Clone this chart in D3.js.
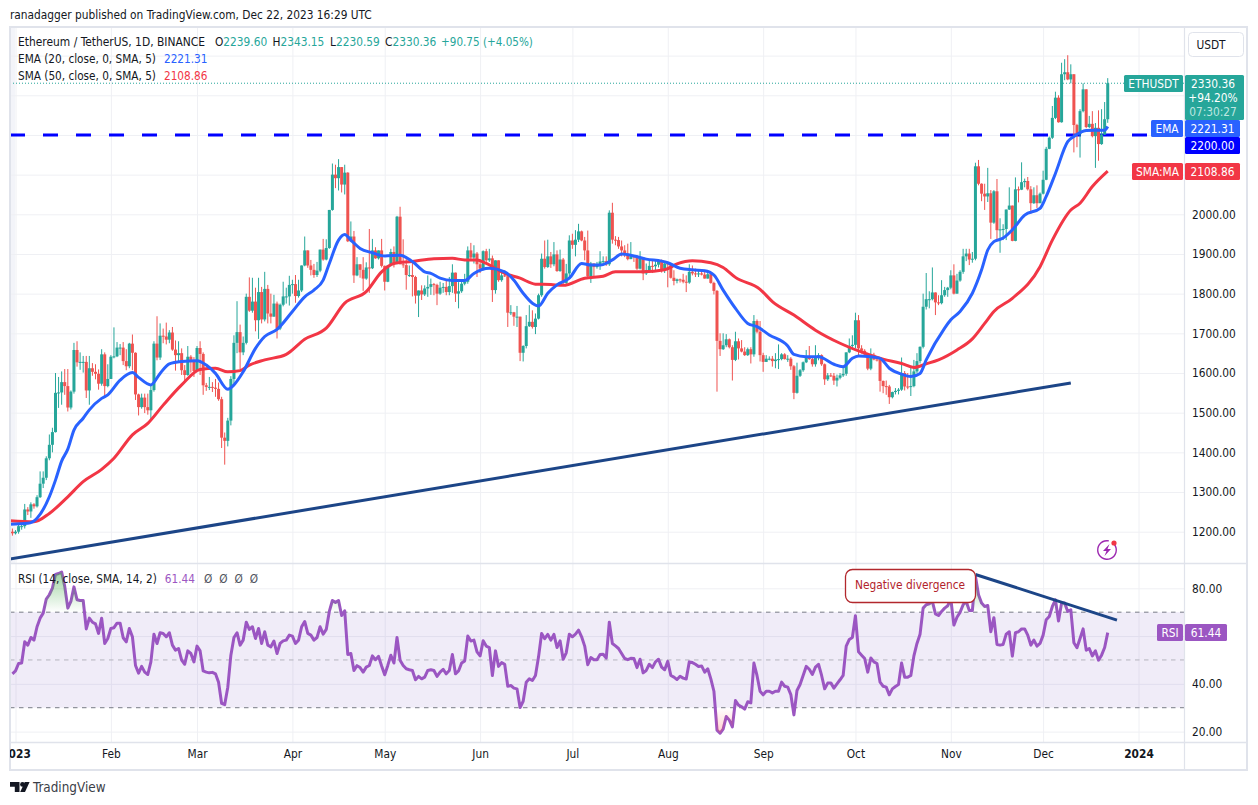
<!DOCTYPE html>
<html>
<head>
<meta charset="utf-8">
<title>ETHUSDT</title>
<script src="https://cdn.jsdelivr.net/npm/d3@7"></script>
<style>
  html, body { margin: 0; padding: 0; background: #fff; }
  text { font-family: "DejaVu Sans", sans-serif; font-stretch: condensed; font-size: 11.8px; fill: #131722; }
  .domain { display: none; }
</style>
</head>
<body>
<svg id="chart" width="1258" height="805"></svg>
<script>
// values, one row per month, first value is Dec 31 2022
const firstDay = -1
const firstOpen = 1200
const closes = [1196,
  1200,1214,1214,1256,1251,1269,1264,1287,1321,1336,1385,1419,1451,1550,1551,1577,1567,1513,1553,1658,1627,1628,1628,1556,1612,1603,1598,1573,1647,1567,1585,
  1641,1642,1664,1664,1630,1617,1674,1651,1546,1514,1538,1514,1506,1557,1674,1639,1694,1692,1684,1702,1659,1645,1650,1607,1595,1641,1633,1605,
  1663,1648,1569,1565,1565,1563,1560,1534,1437,1429,1480,1585,1676,1703,1652,1676,1792,1757,1780,1733,1804,1735,1812,1750,1742,1775,1712,1772,1793,1793,1822,
  1824,1794,1808,1871,1909,1871,1860,1847,1858,1911,1886,1915,2011,2100,2091,2119,2075,2105,1932,1944,1846,1874,1860,1838,1866,1864,1909,1889,1909,1870,
  1830,1871,1905,1876,1994,1874,1872,1847,1847,1842,1795,1808,1798,1813,1817,1824,1822,1800,1815,1817,1804,1819,1853,1800,1806,1825,1830,1909,1891,1901,1874,
  1863,1907,1884,1889,1809,1884,1834,1846,1844,1752,1753,1742,1742,1651,1668,1718,1729,1716,1737,1796,1888,1867,1894,1874,1899,1857,1886,1827,1851,1934,
  1923,1936,1957,1934,1909,1844,1876,1867,1871,1881,1882,1874,2004,1936,1935,1919,1909,1897,1887,1894,1892,1863,1891,1851,1859,1870,1869,1873,1884,1859,1876,
  1875,1840,1832,1836,1835,1830,1828,1855,1851,1849,1851,1848,1838,1849,1827,1807,1681,1660,1670,1685,1665,1633,1680,1662,1654,1645,1660,1647,1731,1704,1645,
  1628,1636,1636,1630,1634,1635,1647,1635,1636,1617,1550,1593,1607,1627,1642,1635,1622,1639,1645,1622,1584,1594,1593,1581,1588,1594,1598,1652,1668,1671,
  1733,1662,1656,1647,1611,1646,1634,1633,1580,1567,1566,1539,1552,1555,1558,1600,1566,1565,1567,1604,1630,1666,1767,1786,1786,1803,1778,1776,1796,1809,1815,
  1846,1800,1833,1855,1894,1901,1886,1888,2121,2077,2052,2045,2053,1979,2058,1960,1962,1963,2012,2022,1933,2063,2062,2081,2084,2063,2028,2048,2028,2052,
  2087,2165,2193,2243,2294,2232,2353,2358,2340,2353,2225,2202,2260,2315,2220,2228,2197,2218,2177,2201,2239.6,2330.36]
const highs = [1208,
  1204,1222,1218,1270,1262,1274,1272,1292,1352,1352,1390,1445,1462,1600,1590,1604,1610,1610,1556,1676,1680,1652,1643,1643,1643,1625,1622,1609,1660,1652,1622,
  1645,1715,1678,1673,1678,1660,1676,1697,1652,1548,1548,1548,1548,1569,1680,1743,1725,1712,1727,1708,1716,1682,1680,1662,1620,1668,1645,1640,
  1668,1680,1652,1575,1590,1577,1585,1576,1540,1450,1487,1592,1695,1781,1722,1692,1800,1841,1840,1815,1840,1817,1855,1822,1800,1797,1780,1775,1830,1815,1845,
  1835,1847,1835,1871,1944,1909,1885,1875,1880,1911,1938,1937,2011,2128,2125,2139,2118,2125,2106,1982,1958,1892,1874,1892,1879,1963,1938,1917,1909,1938,
  1871,1871,1913,1919,1996,2019,1937,1892,1871,1884,1845,1808,1821,1821,1846,1838,1827,1825,1830,1827,1834,1842,1874,1853,1829,1830,1850,1919,1928,1922,1905,
  1884,1909,1913,1913,1896,1884,1884,1859,1859,1846,1771,1754,1769,1740,1670,1746,1771,1758,1750,1800,1901,1934,1936,1905,1930,1909,1911,1890,1875,1947,
  1951,1960,1976,1959,1943,1959,1880,1876,1880,1907,1894,1894,2010,2029,1945,1943,1934,1922,1926,1930,1896,1897,1907,1891,1876,1884,1884,1886,1886,1886,1880,
  1879,1876,1859,1838,1838,1850,1846,1874,1871,1863,1859,1856,1860,1855,1855,1830,1809,1700,1700,1698,1687,1670,1704,1687,1683,1665,1664,1665,1746,1735,1731,
  1651,1645,1642,1643,1650,1672,1650,1650,1645,1640,1620,1626,1610,1629,1658,1668,1641,1670,1650,1647,1624,1600,1600,1600,1596,1600,1616,1652,1687,1695,
  1752,1746,1670,1660,1651,1662,1651,1642,1635,1581,1581,1570,1553,1562,1562,1639,1605,1600,1616,1633,1650,1667,1800,1852,1806,1866,1803,1796,1834,1817,1817,
  1859,1874,1850,1859,1913,1913,1913,1905,2130,2137,2078,2077,2117,2061,2061,2089,1990,1975,2012,2068,2022,2093,2070,2131,2090,2094,2071,2068,2073,2055,
  2110,2170,2196,2273,2309,2300,2382,2391,2401,2378,2353,2228,2265,2330,2315,2248,2260,2230,2262,2265,2283,2343.15]
const lows = [1190,
  1193,1195,1205,1208,1242,1235,1258,1261,1285,1310,1330,1380,1400,1450,1512,1520,1545,1503,1508,1548,1616,1608,1601,1537,1520,1593,1584,1558,1568,1537,1564,
  1585,1637,1640,1645,1620,1607,1612,1607,1532,1493,1510,1499,1495,1482,1553,1632,1633,1675,1672,1675,1656,1606,1628,1595,1578,1593,1601,1590,
  1605,1595,1545,1555,1557,1552,1540,1530,1411,1369,1415,1468,1574,1650,1610,1645,1672,1754,1752,1705,1686,1725,1730,1725,1725,1755,1687,1708,1768,1775,1770,
  1800,1777,1790,1804,1869,1865,1846,1840,1842,1854,1883,1884,1913,2009,2066,2060,2055,2050,1930,1930,1827,1844,1840,1807,1835,1802,1862,1888,1886,1866,
  1808,1829,1869,1866,1874,1874,1865,1810,1842,1793,1775,1741,1784,1794,1792,1797,1796,1771,1797,1802,1796,1796,1802,1779,1763,1802,1821,1825,1885,1876,1842,
  1852,1859,1876,1880,1779,1800,1830,1830,1842,1716,1746,1719,1716,1630,1629,1662,1716,1712,1698,1735,1792,1863,1865,1865,1869,1855,1855,1824,1824,1842,
  1913,1894,1930,1932,1884,1842,1827,1842,1863,1860,1870,1870,1870,1926,1922,1913,1894,1892,1884,1888,1880,1860,1861,1834,1847,1853,1852,1857,1866,1853,1852,
  1816,1838,1821,1826,1828,1826,1804,1825,1846,1842,1842,1846,1838,1838,1825,1798,1553,1643,1658,1665,1662,1581,1630,1634,1652,1643,1643,1624,1641,1700,1629,
  1603,1628,1632,1616,1612,1610,1632,1634,1628,1608,1534,1548,1590,1603,1625,1633,1616,1616,1632,1618,1570,1580,1590,1570,1566,1584,1590,1593,1650,1662,
  1662,1641,1649,1640,1607,1607,1632,1629,1553,1549,1545,1522,1536,1546,1546,1555,1556,1559,1542,1564,1599,1624,1662,1760,1763,1783,1746,1771,1773,1792,1792,
  1811,1798,1819,1830,1850,1882,1872,1878,1884,2073,2033,2011,2031,1938,1976,1936,1903,1935,1935,2011,1932,1932,2030,2061,2068,2060,2001,2026,2016,2028,
  2050,2086,2164,2190,2240,2231,2231,2338,2338,2330,2156,2169,2143,2257,2217,2217,2194,2117,2135,2175,2200,2230.59]

// [day since Jan 1 2023, value]
const emaLine = [[-2,1219],[4,1221],[7,1234],[11,1288],[13,1330],[15,1378],[17,1408],[19,1456],[22,1486],[24,1507],[28,1536],[30,1545],[34,1582],[38,1601],[40,1589],[44,1570],[47,1599],[50,1623],[54,1629],[59,1631],[62,1620],[65,1599],[69,1559],[71,1570],[74,1603],[78,1662],[81,1692],[85,1710],[90,1755],[94,1792],[97,1809],[100,1834],[102,1876],[105,1935],[107,1949],[109,1935],[112,1914],[116,1903],[120,1895],[125,1897],[129,1881],[133,1855],[135,1851],[138,1839],[142,1833],[146,1833],[149,1851],[154,1864],[159,1855],[162,1834],[165,1801],[168,1776],[170,1769],[173,1801],[176,1822],[180,1839],[184,1876],[187,1872],[190,1872],[194,1885],[197,1900],[201,1895],[205,1887],[210,1882],[212,1878],[216,1864],[220,1860],[224,1858],[227,1847],[230,1809],[234,1763],[238,1725],[241,1717],[245,1696],[251,1668],[253,1647],[257,1641],[261,1641],[266,1622],[269,1616],[272,1637],[274,1643],[278,1641],[281,1637],[284,1612],[288,1597],[291,1591],[294,1599],[296,1633],[302,1713],[304,1734],[307,1755],[311,1801],[314,1860],[316,1910],[318,1931],[321,1940],[324,1961],[328,1998],[333,2015],[335,2045],[338,2103],[342,2183],[344,2196],[348,2211],[351,2212],[354,2212],[355,2221.31]]
const smaLine = [[-2,1228],[6,1225],[11,1246],[17,1288],[22,1326],[28,1357],[32,1385],[38,1444],[43,1473],[48,1519],[54,1570],[60,1609],[65,1612],[69,1603],[73,1606],[76,1620],[81,1633],[88,1647],[94,1685],[101,1713],[107,1776],[114,1805],[119,1855],[123,1876],[129,1881],[136,1888],[142,1889],[146,1885],[150,1885],[153,1876],[159,1851],[164,1839],[169,1824],[174,1823],[178,1821],[185,1839],[191,1844],[195,1855],[204,1855],[211,1860],[215,1875],[220,1883],[226,1878],[230,1866],[234,1841],[242,1811],[246,1780],[253,1746],[260,1708],[268,1675],[276,1650],[282,1635],[288,1624],[292,1614],[296,1623],[300,1633],[306,1658],[311,1686],[315,1725],[318,1755],[324,1788],[333,1868],[337,1935],[343,2011],[346,2028],[350,2070],[355,2108.86]]

const rsiValues = [
  44.2,45.4,48.5,48.7,57.6,56.2,59.4,58.3,63.9,67.5,69.6,75.5,77.3,80.1,85.8,86.2,86.8,80.8,71.7,74.5,80.6,75.2,74.9,74.9,63,67.5,65.8,65.1,61.1,67.5,56.9,59,63.2,
  63.5,65.4,65.4,59.3,57.6,63.2,59.7,47.7,44.5,47.3,44.9,43.9,49.2,60.8,56.9,61.4,61.1,59.7,61.4,56.2,54.1,54.8,49.9,48.2,53.8,52.7,49.2,55.8,
  53.8,45.4,44.9,44.6,44.8,44.2,40.7,31.8,31.3,38.6,52,59.4,61.4,56.2,58.3,65.8,62.8,63.9,59,63.2,56.9,61.8,56.2,55.5,57.9,52.7,56.9,58,58.3,60.4,60,
  56.9,58.3,63.9,66.1,61.1,60.4,58.3,59.4,63.9,60.8,62.8,70.3,74.9,74.1,74.9,68.6,70.6,52.3,52.7,45.6,47.6,46.8,44.9,47,47.7,51.7,50.1,51.5,47.5,43.8,
  47.7,52,48.7,59.4,49.9,47.7,46.3,45.9,45.6,41.7,43.1,
  42.1,42.8,45.6,45.9,45.6,43.1,44.9,46.1,44.2,45.6,52.3,44.2,45.4,48.7,49.6,60,57.9,58.3,53.4,51.7,
  58,55.8,55.2,43.5,53.8,47.3,48.9,48.2,39,39.3,38.2,37.9,30.1,32.7,40.7,42.1,41.4,43.5,51.3,61.1,
  58.9,60.7,58.3,60.7,55.2,58,50.3,53,60.8,59.7,60.8,62.5,59.7,55.8,48,51,50.1,50.1,52.3,52.4,
  50.8,65.8,56.9,55.9,54.8,52.7,50.6,50.1,50.7,50.6,46.8,50.3,44.6,45.6,48.2,46.8,49.2,50.3,47,45.9,
  49.4,43.5,42.8,41.8,43.2,42.4,42,49.2,48.9,48.2,47.3,47.5,44.9,46.3,42.1,36.9,20.6,19.3,21,26.3,
  24.8,22,33,31.1,30.4,29.4,32.5,32,48.7,43.5,36.9,35.4,36.9,36.9,36.2,36.9,36.9,40.7,39,38.6,
  35.5,27,37.2,39.7,43.5,47.3,46.1,43.9,47,48.2,43.5,37.9,40.3,40.4,38.2,40,41.7,
  43.5,55.8,58.6,59.4,68.5,53.4,52,50.6,44.9,50.8,49.2,48.5,40.7,39,38.6,35.4,37.9,38.9,39.7,48.7,
  42.8,42.8,43.5,51.7,56.9,60.8,71.7,73.1,73.5,74.5,69.3,68.6,70.3,71.7,72.7,75.5,64.6,67.9,69.9,73.1,
  74.5,70.7,70.7,85.1,77.3,73.8,72.4,72.8,61.8,67.7,56.5,56.2,56.5,60.8,61.8,51.6,61.4,61.8,63,63,
  60.4,56.2,58.3,55.8,56.9,60.4,66.8,68.2,72.4,75.2,66.3,73.8,73.8,70.3,71,57.2,55.1,59,63,54.1,
  54.8,51.7,53.8,49.9,52,55.2,61.44]

// trend lines drawn on the chart, [day, value]
const priceTrend = [[-2,1131],[343,1575]]
const rsiTrend = [[312,85.8],[358,66.7]]

const priceTicks = [1200,1300,1400,1500,1600,1700,1800,1900,2000]
const priceGrid = [1200,1300,1400,1500,1600,1700,1800,1900,2000,2100,2200,2300,2400]
const rsiGrid = [20,40,60,80]
const rsiTicks = [20,40,80] // 60 sits behind the RSI tag
const monthStarts = ['2023-01-01','2023-02-01','2023-03-01','2023-04-01','2023-05-01','2023-06-01','2023-07-01','2023-08-01','2023-09-01','2023-10-01','2023-11-01','2023-12-01','2024-01-01']
const monthLabels = ['2023','Feb','Mar','Apr','May','Jun','Jul','Aug','Sep','Oct','Nov','Dec','2024']
const up = '#26a69a', down = '#ef5350', blue = '#2962ff', red = '#f23645', purple = '#9b56c2', navy = '#1c4587'
const border = '#e0e3eb', grid = '#eff0f4'

const dayDate = d => new Date(Date.UTC(2023, 0, 1 + d))
const x = d3.scaleUtc().domain([dayDate(0), dayDate(365)]).range([15.5, 1138.5])
const yP = d3.scaleLinear().domain([1200, 2000]).range([531.7, 214.3])
const yR = d3.scaleLinear().domain([20, 80]).range([731.6, 588.3])

const svg = d3.select('#chart')
const defs = svg.append('defs')
const addClip = (id, x0, y0, w, h) => defs.append('clipPath').attr('id', id).append('rect')
  .attr('x', x0).attr('y', y0).attr('width', w).attr('height', h)
addClip('plotClip', 10, 27, 1174, 715)
addClip('mainClip', 10, 27, 1174, 535)
addClip('rsiClip', 10, 564, 1174, 177)
addClip('timeClip', 10, 743, 1174, 26)
addClip('overClip', 10, 564, 1174, yR(70) - 564)
addClip('underClip', 10, yR(30), 1174, 741 - yR(30))

const overGrad = defs.append('linearGradient').attr('id', 'overGrad').attr('gradientUnits', 'userSpaceOnUse')
  .attr('x1', 0).attr('x2', 0).attr('y1', yR(87)).attr('y2', yR(70))
overGrad.append('stop').attr('offset', 0).attr('stop-color', '#4caf50').attr('stop-opacity', 0.55)
overGrad.append('stop').attr('offset', 1).attr('stop-color', '#4caf50').attr('stop-opacity', 0)
const underGrad = defs.append('linearGradient').attr('id', 'underGrad').attr('gradientUnits', 'userSpaceOnUse')
  .attr('x1', 0).attr('x2', 0).attr('y1', yR(30)).attr('y2', yR(19))
underGrad.append('stop').attr('offset', 0).attr('stop-color', '#ff5252').attr('stop-opacity', 0)
underGrad.append('stop').attr('offset', 1).attr('stop-color', '#ff5252').attr('stop-opacity', 0.3)

// background
svg.append('rect').attr('width', 1258).attr('height', 805).attr('fill', '#fff')
svg.append('rect').attr('x', 10).attr('y', 27).attr('width', 5).attr('height', 536).attr('fill', '#f3f4f9')

// grids
const monthDates = monthStarts.map(d => new Date(d))
const gridG = svg.append('g').attr('clip-path', 'url(#plotClip)')
gridG.append('g').attr('transform', 'translate(0,742)')
  .call(d3.axisBottom(x).tickValues(monthDates).tickSize(-715).tickFormat(''))
  .selectAll('line').attr('stroke', grid)
gridG.append('g').attr('transform', 'translate(1184,0)')
  .call(d3.axisLeft(yP).tickValues(priceGrid).tickSize(1174).tickFormat(''))
  .selectAll('line').attr('stroke', grid)
gridG.append('g').attr('transform', 'translate(1184,0)')
  .call(d3.axisLeft(yR).tickValues(rsiGrid).tickSize(1174).tickFormat(''))
  .selectAll('line').attr('stroke', grid)

// rsi band
svg.append('rect').attr('x', 10).attr('y', yR(70)).attr('width', 1174).attr('height', yR(30) - yR(70))
  .attr('fill', '#7e57c2').attr('fill-opacity', 0.115)
svg.append('g').selectAll('line').data([70, 50, 30]).join('line')
  .attr('x1', 10).attr('x2', 1184).attr('y1', d => yR(d)).attr('y2', d => yR(d))
  .attr('stroke', d => d === 50 ? '#b4b5bd' : '#787b86').attr('stroke-dasharray', '4.5,4.5')

// candles
const candles = closes.map((c, i) => ({ day: firstDay + i, open: i === 0 ? firstOpen : closes[i - 1], close: c, high: highs[i], low: lows[i] }))
const main = svg.append('g').attr('clip-path', 'url(#mainClip)')

// 2200 level and last price line go under the candles
main.append('line').attr('x1', 10).attr('x2', 1184).attr('y1', yP(2200)).attr('y2', yP(2200))
  .attr('stroke', '#0000ff').attr('stroke-width', 3).attr('stroke-dasharray', '15,18')
main.append('line').attr('x1', 10).attr('x2', 1184).attr('y1', yP(2330.36)).attr('y2', yP(2330.36))
  .attr('stroke', up).attr('stroke-dasharray', '1,2')

const candleG = main.selectAll('g.candle').data(candles).join('g').attr('class', 'candle')
  .attr('fill', d => d.close >= d.open ? up : down)
  .attr('stroke', d => d.close >= d.open ? up : down)
candleG.append('line')
  .attr('x1', d => x(dayDate(d.day))).attr('x2', d => x(dayDate(d.day)))
  .attr('y1', d => yP(Math.max(d.high, d.open, d.close))).attr('y2', d => yP(Math.min(d.low, d.open, d.close)))
  .attr('stroke-width', 1)
candleG.append('rect')
  .attr('x', d => x(dayDate(d.day)) - 1.5).attr('width', 3)
  .attr('y', d => yP(Math.max(d.open, d.close)))
  .attr('height', d => Math.max(1, Math.abs(yP(d.open) - yP(d.close))))
  .attr('stroke', 'none')

const lineOf = (xs, ys) => d3.line().x(d => xs(dayDate(d[0]))).y(d => ys(d[1]))
const smooth = (ys) => lineOf(x, ys).curve(d3.curveMonotoneX)
main.append('path').datum(smaLine).attr('d', smooth(yP)).attr('fill', 'none').attr('stroke', red).attr('stroke-width', 3)
main.append('path').datum(emaLine).attr('d', smooth(yP)).attr('fill', 'none').attr('stroke', blue).attr('stroke-width', 3)
main.append('path').datum(priceTrend).attr('d', lineOf(x, yP)).attr('fill', 'none').attr('stroke', navy).attr('stroke-width', 3)

// rsi pane
const rsiPts = rsiValues.map((v, i) => [firstDay + i, v])
const rsiG = svg.append('g').attr('clip-path', 'url(#rsiClip)')
const rsiArea = lim => d3.area().x(d => x(dayDate(d[0]))).y0(yR(lim)).y1(d => yR(d[1]))
svg.append('path').datum(rsiPts).attr('d', rsiArea(70)).attr('fill', 'url(#overGrad)').attr('clip-path', 'url(#overClip)')
svg.append('path').datum(rsiPts).attr('d', rsiArea(30)).attr('fill', 'url(#underGrad)').attr('clip-path', 'url(#underClip)')
rsiG.append('path').datum(rsiPts).attr('d', lineOf(x, yR)).attr('fill', 'none').attr('stroke', purple).attr('stroke-width', 3)
  .attr('stroke-linejoin', 'round')
svg.append('path').datum(rsiTrend).attr('d', lineOf(x, yR)).attr('fill', 'none').attr('stroke', navy).attr('stroke-width', 3)

// callout
svg.append('rect').attr('x', 845.5).attr('y', 569.5).attr('width', 130).attr('height', 33).attr('rx', 7)
  .attr('fill', '#fff').attr('stroke', '#b2282d').attr('stroke-width', 1.3)
svg.append('text').attr('x', 910).attr('y', 589).attr('text-anchor', 'middle').style('fill', '#b2222a').text('Negative divergence')

// frame
const frame = svg.append('g').attr('stroke', border).attr('fill', 'none')
frame.append('rect').attr('x', 10).attr('y', 27).attr('width', 1237).attr('height', 743).attr('stroke-width', 2)
frame.append('line').attr('x1', 10).attr('x2', 1247).attr('y1', 563.5).attr('y2', 563.5).attr('stroke-width', 1.5)
frame.append('line').attr('x1', 10).attr('x2', 1247).attr('y1', 742.5).attr('y2', 742.5).attr('stroke-width', 1.5)
frame.append('line').attr('x1', 1184.5).attr('x2', 1184.5).attr('y1', 27).attr('y2', 770).attr('stroke-width', 1.2)

// axes
const money = d3.format('.2f')
svg.append('g').attr('transform', 'translate(1184,0)')
  .call(d3.axisRight(yP).tickValues(priceTicks).tickSize(0).tickPadding(8).tickFormat(money))
svg.append('g').attr('transform', 'translate(1184,0)')
  .call(d3.axisRight(yR).tickValues(rsiTicks).tickSize(0).tickPadding(8).tickFormat(money))
const timeAxis = svg.append('g').attr('clip-path', 'url(#timeClip)').append('g').attr('transform', 'translate(0,742)')
  .call(d3.axisBottom(x).tickValues(monthDates).tickSize(0).tickPadding(8)
    .tickFormat((d, i) => monthLabels[i]))
svg.selectAll('.tick text').attr('font-family', null).attr('font-size', null)
timeAxis.selectAll('.tick text').style('font-weight', (d, i) => i === 0 || i === 12 ? 600 : 400)

// header and legends
svg.append('text').attr('x', 10).attr('y', 19).text('ranadagger published on TradingView.com, Dec 22, 2023 16:29 UTC')
const ohlc = svg.append('text').attr('y', 46)
ohlc.append('tspan').attr('x', 18).style('font-size', '11.9px').text('Ethereum / TetherUS, 1D, BINANCE')
;[['O', '2239.60', 215], ['H', '2343.15', 272.5], ['L', '2230.59', 330], ['C', '2330.36', 385]].forEach(([k, v, at]) => {
  ohlc.append('tspan').attr('x', at).text(k)
  ohlc.append('tspan').style('fill', up).text(v)
})
ohlc.append('tspan').attr('x', 441).style('fill', up).style('font-size', '11.6px').text('+90.75 (+4.05%)')

function legend (y, label, value, color) {
  const t = svg.append('text').attr('x', 18).attr('y', y).style('font-size', '11.7px')
  t.append('tspan').text(label)
  t.append('tspan').attr('dx', 8).style('fill', color).text(value)
  return t
}
legend(63, 'EMA (20, close, 0, SMA, 5)', '2221.31', blue)
legend(80, 'SMA (50, close, 0, SMA, 5)', '2108.86', red)
const rsiLegend = legend(583, 'RSI (14, close, SMA, 14, 2)', '61.44', purple)
;['Ø', 'Ø', 'Ø', 'Ø'].forEach((s, i) => rsiLegend.append('tspan').attr('dx', i === 0 ? 9 : 7).style('fill', '#50535e').text(s))

// price tags
function tag (x0, w, y0, h, color, lines) {
  svg.append('rect').attr('x', x0).attr('y', y0).attr('width', w).attr('height', h).attr('rx', 1.5).attr('fill', color)
  lines.forEach(l => {
    svg.append('text').attr('x', l.x || x0 + w / 2).attr('y', l.y).attr('text-anchor', 'middle')
      .style('fill', l.color || '#fff').text(l.text)
  })
}
tag(1124, 59, 75, 17, up, [{ y: 88, text: 'ETHUSDT' }])
tag(1185, 59, 75, 45, up, [{ x: 1213, y: 88, text: '2330.36' }, { x: 1213, y: 102, text: '+94.20%' }, { x: 1213, y: 116, text: '07:30:27', color: '#bfe6e1' }])
tag(1151, 32, 120, 17, blue, [{ y: 133, text: 'EMA' }])
tag(1185, 55, 120, 17, blue, [{ y: 133, text: '2221.31' }])
tag(1185, 55, 137, 17, '#0000ff', [{ y: 150, text: '2200.00' }])
tag(1132, 51, 163, 17, red, [{ y: 176, text: 'SMA:MA' }])
tag(1185, 55, 163, 17, red, [{ y: 176, text: '2108.86' }])
tag(1157, 26, 624, 17, purple, [{ y: 637, text: 'RSI' }])
tag(1185, 42, 624, 17, purple, [{ y: 637, text: '61.44' }])

// currency button
svg.append('rect').attr('x', 1188.5).attr('y', 32.5).attr('width', 55).attr('height', 24).attr('rx', 4)
  .attr('fill', '#fff').attr('stroke', border)
svg.append('text').attr('x', 1211).attr('y', 49).attr('text-anchor', 'middle').text('USDT')

// bolt icon
const bolt = svg.append('g').attr('transform', 'translate(1107,550)')
bolt.append('path').attr('d', d3.arc()({ innerRadius: 8.6, outerRadius: 10, startAngle: 0.9, endAngle: Math.PI * 2 + 0.2 })).attr('fill', '#9c27b0')
bolt.append('path').attr('d', 'M2.5,-6 L-4,1 L-0.5,1 L-2.5,6 L4,-1 L0.5,-1 Z').attr('fill', '#9c27b0')
bolt.append('circle').attr('cx', 7).attr('cy', -7).attr('r', 2.6).attr('fill', '#f23645')

// footer logo
const logo = svg.append('g').attr('fill', '#131722')
logo.append('path').attr('d', 'M10,782 H19.5 V792 H14.8 V786.8 H10 Z')
logo.append('circle').attr('cx', 22.5).attr('cy', 784.4).attr('r', 2.4)
logo.append('path').attr('d', 'M24.8,782 H29.6 L25,792 H20.2 Z')
svg.append('text').attr('x', 33).attr('y', 792).style('font-size', '13.4px').style('fill', '#3b3e47').text('TradingView')
</script>
</body>
</html>
